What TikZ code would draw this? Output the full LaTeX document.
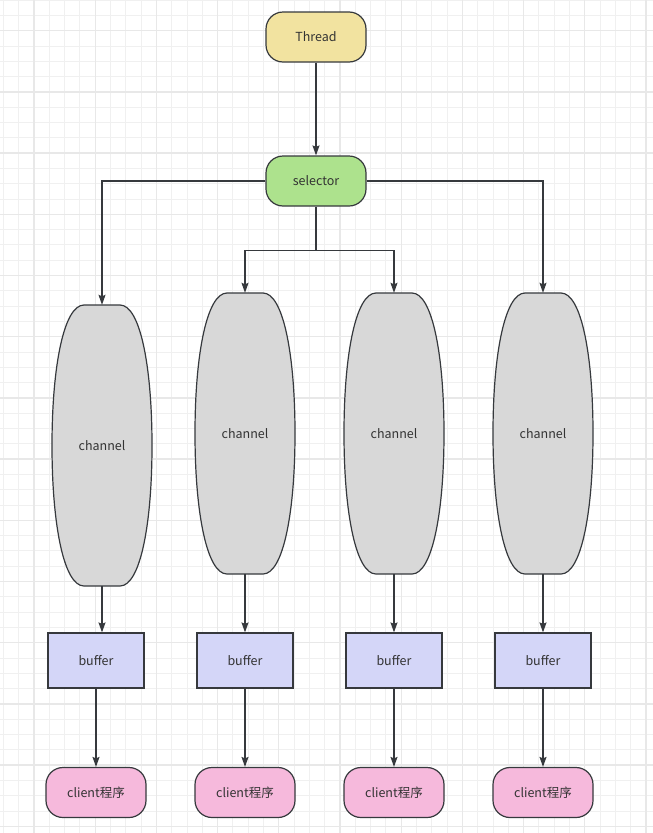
\documentclass[tikz,border=0pt]{standalone}
\usepackage{fontspec}
\setmainfont{Noto Sans CJK SC}
\usetikzlibrary{arrows.meta}
\definecolor{linec}{HTML}{36393D}
\definecolor{txtc}{HTML}{333333}
\definecolor{threadc}{HTML}{F2E3A0}
\definecolor{selc}{HTML}{ADE28D}
\definecolor{chanc}{HTML}{D8D8D8}
\definecolor{bufc}{HTML}{D4D6F8}
\definecolor{clientc}{HTML}{F6B9DC}
\definecolor{gridminor}{HTML}{F0F0F0}
\definecolor{gridmajor}{HTML}{E8E8E8}
\tikzset{
  roundbox/.style={draw=linec, line width=1.2pt, minimum width=100pt, minimum height=50pt,
    rounded corners=17pt, inner sep=0pt, text=txtc, font=\fontsize{12.5}{14}\selectfont},
  bufbox/.style={draw=linec, line width=1.2pt, fill=bufc, minimum width=96pt, minimum height=55pt,
    inner sep=0pt, text=txtc, font=\fontsize{12.5}{14}\selectfont},
  chanbox/.style={minimum width=100pt, minimum height=281pt, inner sep=0pt, text=txtc,
    font=\fontsize{12.5}{14}\selectfont},
  chanshape/.style={draw=linec, line width=1.2pt, fill=chanc},
  conn/.style={draw=linec, line width=1.2pt, -{Stealth[length=10pt,width=7pt,inset=1.5pt]}},
  gminor/.style={draw=gridminor, line width=1pt},
  gmajor/.style={draw=gridmajor, line width=1.3pt}
}
\begin{document}
\begin{tikzpicture}[x=1pt,y=-1pt]
\useasboundingbox (0,0) rectangle (653,833);
\fill[white] (0,0) rectangle (653,833);
\begin{scope}
\clip (0,0) rectangle (653,833);
\foreach \i in {-3,...,42} {
  \pgfmathsetmacro\xx{34+15.3*\i}
  \draw[gminor] (\xx,0) -- (\xx,833);
}
\foreach \i in {-3,...,54} {
  \pgfmathsetmacro\yy{30.7+15.3*\i}
  \draw[gminor] (0,\yy) -- (653,\yy);
}
\foreach \i in {-1,...,10} {
  \pgfmathsetmacro\xx{34+61.2*\i}
  \draw[gmajor] (\xx,0) -- (\xx,833);
}
\foreach \i in {-1,...,13} {
  \pgfmathsetmacro\yy{30.7+61.2*\i}
  \draw[gmajor] (0,\yy) -- (653,\yy);
}
\end{scope}

% channel shapes
\foreach \cx/\cy in {102/445.5, 245/433.5, 394/433.5, 543/433.5} {
  \begin{scope}[shift={(\cx,\cy)}]
  \draw[chanshape] (-18,-140.5) -- (18,-140.5)
    .. controls (38,-140.5) and (50,-80) .. (50,0)
    .. controls (50,80) and (38,140.5) .. (18,140.5)
    -- (-18,140.5)
    .. controls (-38,140.5) and (-50,80) .. (-50,0)
    .. controls (-50,-80) and (-38,-140.5) .. cycle;
  \end{scope}
}

\node[roundbox, fill=threadc] (thread) at (316,37) {Thread};
\node[roundbox, fill=selc] (sel) at (316,181) {selector};

\node[chanbox] (ch1) at (102,445.5) {channel};
\node[chanbox] (ch2) at (245,433.5) {channel};
\node[chanbox] (ch3) at (394,433.5) {channel};
\node[chanbox] (ch4) at (543,433.5) {channel};

\node[bufbox] (buf1) at (96,660.5) {buffer};
\node[bufbox] (buf2) at (245,660.5) {buffer};
\node[bufbox] (buf3) at (394,660.5) {buffer};
\node[bufbox] (buf4) at (543,660.5) {buffer};

\node[roundbox, fill=clientc] (cl1) at (96,792.5) {client程序};
\node[roundbox, fill=clientc] (cl2) at (245,792.5) {client程序};
\node[roundbox, fill=clientc] (cl3) at (394,792.5) {client程序};
\node[roundbox, fill=clientc] (cl4) at (543,792.5) {client程序};

\draw[conn] (thread) -- (sel);
\draw[conn] (sel.west) -| (ch1.north);
\draw[conn] (sel.east) -| (ch4.north);
\coordinate (split) at ([yshift=-44pt]sel.south);
\draw[conn] (sel.south) -- (split) -| (ch2.north);
\draw[conn] (split) -| (ch3.north);

\draw[conn] (ch1.south) -- (ch1.south |- buf1.north);
\draw[conn] (ch2) -- (buf2);
\draw[conn] (ch3) -- (buf3);
\draw[conn] (ch4) -- (buf4);

\draw[conn] (buf1) -- (cl1);
\draw[conn] (buf2) -- (cl2);
\draw[conn] (buf3) -- (cl3);
\draw[conn] (buf4) -- (cl4);
\end{tikzpicture}
\end{document}
